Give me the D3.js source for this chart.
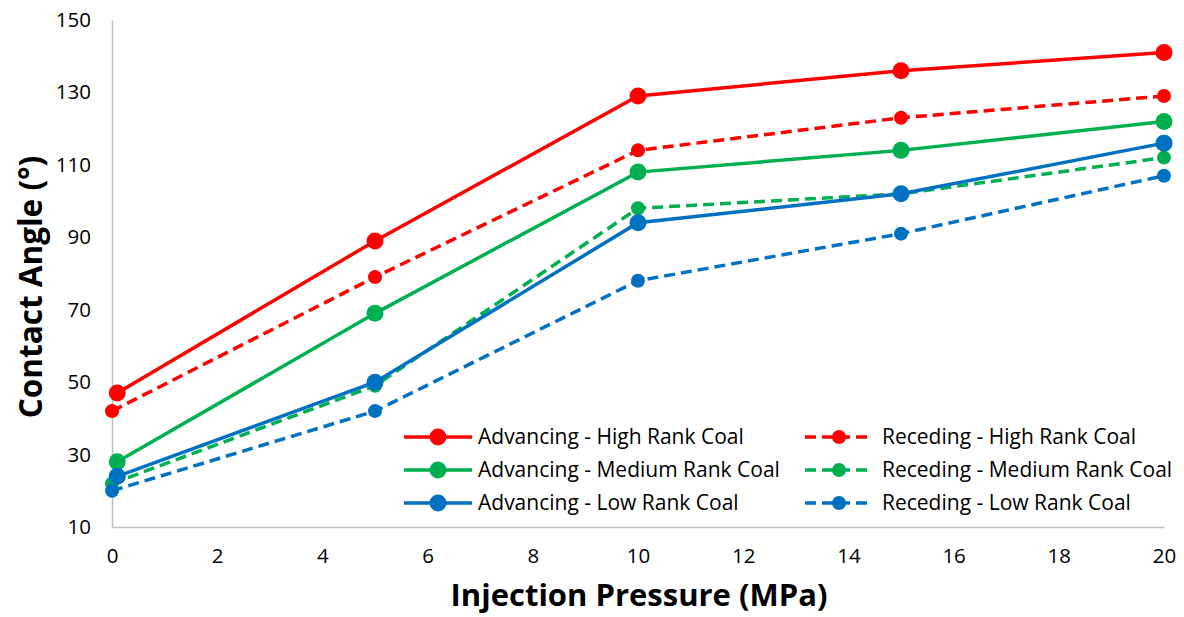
<!DOCTYPE html>
<html>
<head>
<meta charset="utf-8">
<script src="https://cdn.jsdelivr.net/npm/d3@7"></script>
<style>
  html, body { margin: 0; padding: 0; background: #fff; }
  svg { display: block; font-family: "Open Sans", "Liberation Sans", sans-serif; }
</style>
</head>
<body>
<svg id="chart" width="1184" height="617"></svg>
<script>
// ---- data ----
const xAdvancing = [0.1, 5, 10, 15, 20];
const xReceding  = [0, 5, 10, 15, 20];
const advHigh   = [47, 89, 129, 136, 141];
const recHigh   = [42, 79, 114, 123, 129];
const advMedium = [28, 69, 108, 114, 122];
const recMedium = [22, 49, 98, 102, 112];
const advLow    = [24, 50, 94, 102, 116];
const recLow    = [20, 42, 78, 91, 107];
const xTicks = [0, 2, 4, 6, 8, 10, 12, 14, 16, 18, 20];
const yTicks = [10, 30, 50, 70, 90, 110, 130, 150];
const seriesNames = [
  "Advancing - High Rank Coal", "Receding - High Rank Coal",
  "Advancing - Medium Rank Coal", "Receding - Medium Rank Coal",
  "Advancing - Low Rank Coal", "Receding - Low Rank Coal"
];

(function () {
const RED = "#FF0000", GREEN = "#00B050", BLUE = "#0070C0";
const FONT = "'Open Sans', 'Liberation Sans', sans-serif";
const series = [
  { name: seriesNames[0], xs: xAdvancing, ys: advHigh,   color: RED,   dashed: false },
  { name: seriesNames[1], xs: xReceding,  ys: recHigh,   color: RED,   dashed: true },
  { name: seriesNames[2], xs: xAdvancing, ys: advMedium, color: GREEN, dashed: false },
  { name: seriesNames[3], xs: xReceding,  ys: recMedium, color: GREEN, dashed: true },
  { name: seriesNames[4], xs: xAdvancing, ys: advLow,    color: BLUE,  dashed: false },
  { name: seriesNames[5], xs: xReceding,  ys: recLow,    color: BLUE,  dashed: true }
];

const svg = d3.select("#chart");
const mL = 112, mR = 1164, mT = 20, mB = 527;
const x = d3.scaleLinear().domain([0, 20]).range([mL, mR]);
const y = d3.scaleLinear().domain([10, 150]).range([mB, mT]);

// axes
const xAxis = svg.append("g").attr("transform", `translate(0,${mB})`)
  .call(d3.axisBottom(x).tickValues(xTicks).tickSize(0).tickPadding(21));
const yAxis = svg.append("g").attr("transform", `translate(${mL},0)`)
  .call(d3.axisLeft(y).tickValues(yTicks).tickSize(0).tickPadding(21));
[xAxis, yAxis].forEach(a => {
  a.select(".domain").attr("stroke", "#BFBFBF").attr("stroke-width", 1.5);
  a.selectAll("text").attr("font-size", 20.5).attr("fill", "#000").attr("font-family", FONT);
});

// axis titles
svg.append("text").attr("x", 639).attr("y", 606)
  .attr("text-anchor", "middle").attr("font-weight", "bold").attr("font-size", 31)
  .attr("font-family", FONT).text("Injection Pressure (MPa)");
svg.append("text").attr("transform", `translate(42,${287}) rotate(-90)`)
  .attr("text-anchor", "middle").attr("font-weight", "bold").attr("font-size", 31.5)
  .attr("font-family", FONT).text("Contact Angle (°)");

// lines
const line = d3.line().x(d => x(d[0])).y(d => y(d[1]));
const plot = svg.append("g");
series.forEach(s => {
  const pts = s.xs.map((v, i) => [v, s.ys[i]]);
  plot.append("path").datum(pts).attr("d", line)
    .attr("fill", "none").attr("stroke", s.color).attr("stroke-width", 3.5)
    .attr("stroke-dasharray", s.dashed ? "11,6" : null);
  plot.selectAll(null).data(pts).enter().append("circle")
    .attr("cx", d => x(d[0])).attr("cy", d => y(d[1]))
    .attr("r", s.dashed ? 7 : 8.5).attr("fill", s.color);
});

// legend
const legend = svg.append("g");
const colX = [404, 805];
const rowY = [437, 470, 503];
series.forEach((s, i) => {
  const col = s.dashed ? 1 : 0;
  const row = Math.floor(i / 2);
  const lx = colX[col], ly = rowY[row];
  const g = legend.append("g").attr("transform", `translate(${lx},${ly})`);
  g.append("line").attr("x1", 0).attr("x2", 68).attr("y1", 0).attr("y2", 0)
    .attr("stroke", s.color).attr("stroke-width", 3.5)
    .attr("stroke-dasharray", s.dashed ? "11,6" : null);
  g.append("circle").attr("cx", 34).attr("cy", 0).attr("r", s.dashed ? 7 : 8.5).attr("fill", s.color);
  g.append("text").attr("x", s.dashed ? 77 : 74).attr("y", 0).attr("dy", "0.35em")
    .attr("font-size", 21).attr("fill", "#000").attr("font-family", FONT).text(s.name);
});
})();
</script>
</body>
</html>
